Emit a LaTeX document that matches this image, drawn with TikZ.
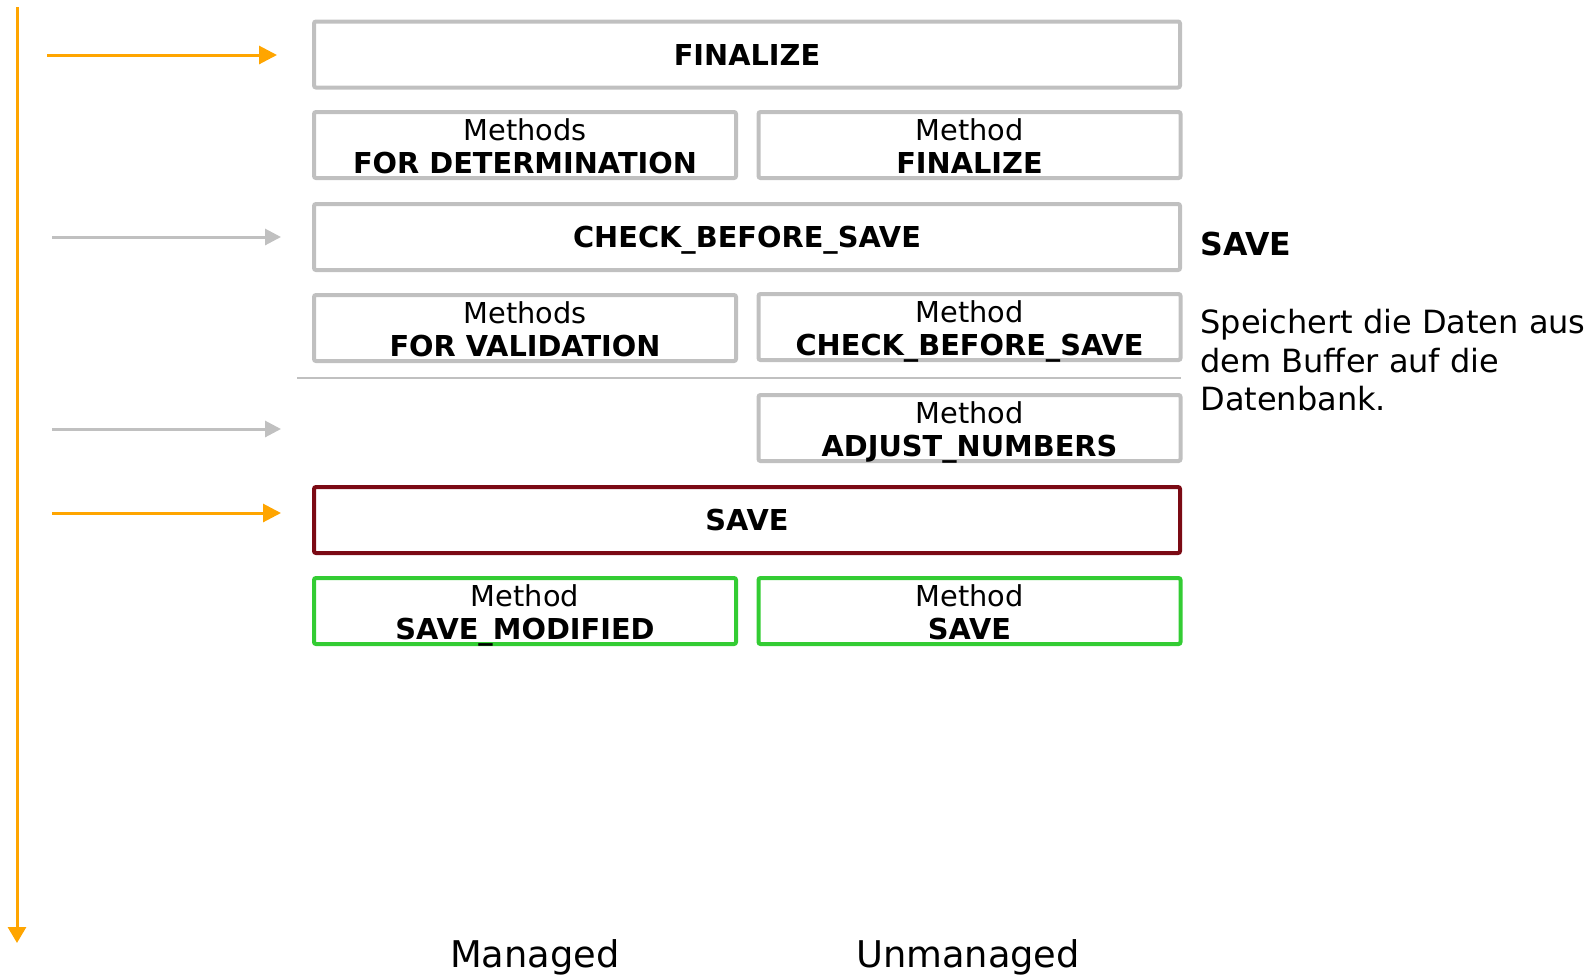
\documentclass[tikz,border=0pt]{standalone}
\usepackage{fontspec}
\setmainfont{DejaVu Sans}
\usetikzlibrary{arrows.meta}
\definecolor{boxgray}{HTML}{C0C0C0}
\definecolor{flow}{HTML}{FFA500}
\definecolor{savered}{HTML}{7B0A14}
\definecolor{okgreen}{HTML}{33CC33}
\newcommand\mlbl[2]{\rule{0pt}{14.25pt}\smash{#1}\\\smash{\textbf{#2}}\rule[-2.25pt]{0pt}{2.25pt}}
\newcommand\slbl[1]{\rule[-4pt]{0pt}{18.5pt}\textbf{#1}}

\begin{document}
\begin{tikzpicture}[x=0.5pt,y=-0.5pt,
		box/.style={draw=boxgray,line width=2pt,rounded corners=1pt,minimum height=33pt,inner sep=0pt,align=center,font=\fontsize{14.4}{16.5}\selectfont},
		wide/.style={box,minimum width=433pt},
		half/.style={box,minimum width=211pt},
		flowarrow/.style={draw=flow,line width=1.5pt,-{Triangle[length=9pt,width=9pt]}},
		grayarrow/.style={draw=boxgray,line width=1.5pt,-{Triangle[length=8pt,width=8pt]}}]
					\useasboundingbox (0,0) rectangle (1589,975);

					% time axis
					\coordinate (top) at (17,7);
					\coordinate (bottom) at (17,943);
					\draw[flowarrow,-{Triangle[length=8pt,width=9pt]}] (top) -- (bottom);

					\node[wide] (finalize) at (747,54.5) {\slbl{FINALIZE}};
					\node[half] (detMethods) at (525,145) {\mlbl{Methods}{FOR DETERMINATION}};
					\node[half] (finMethod) at (969.5,145) {\mlbl{Method}{FINALIZE}};
					\node[wide] (check) at (747,237) {\slbl{CHECK\_BEFORE\_SAVE}};
					\node[half] (valMethods) at (525,328) {\mlbl{Methods}{FOR VALIDATION}};
					\node[half] (cbsMethod) at (969.5,327) {\mlbl{Method}{CHECK\_BEFORE\_SAVE}};
					\draw[boxgray,line width=1pt] (297,378) -- (1181,378);
					\node[half] (adjust) at (969.5,428) {\mlbl{Method}{ADJUST\_NUMBERS}};
					\node[wide,draw=savered] (save) at (747,520) {\slbl{SAVE}};
					\node[half,draw=okgreen] (saveMod) at (525,611) {\mlbl{Method}{SAVE\_MODIFIED}};
					\node[half,draw=okgreen] (saveMeth) at (969.5,611) {\mlbl{Method}{SAVE}};

					% arrows into the phases
					\coordinate (a1) at (47,55);   \coordinate (b1) at (277,55);
					\coordinate (a2) at (52,237);  \coordinate (b2) at (281,237);
					\coordinate (a3) at (52,429);  \coordinate (b3) at (281,429);
					\coordinate (a4) at (52,513);  \coordinate (b4) at (281,513);
					\draw[flowarrow] (a1) -- (b1);
					\draw[grayarrow] (a2) -- (b2);
					\draw[grayarrow] (a3) -- (b3);
					\draw[flowarrow] (a4) -- (b4);

					% description
					\node[anchor=base west,inner sep=0pt,font=\fontsize{15.8}{18}\selectfont\bfseries] (title) at (1200,255) {SAVE};
					\node[anchor=north west,inner sep=0pt,align=left,font=\fontsize{16}{19.25}\selectfont] (desc) at (1200,309)
						{Speichert die Daten aus\\dem Buffer auf die\\Datenbank.};

					\node[anchor=base,inner sep=0pt,font=\fontsize{18.4}{20}\selectfont] (managed) at (535,967) {Managed};
					\node[anchor=base,inner sep=0pt,font=\fontsize{18.4}{20}\selectfont] (unmanaged) at (968,967) {Unmanaged};
				\end{tikzpicture}
\end{document}
